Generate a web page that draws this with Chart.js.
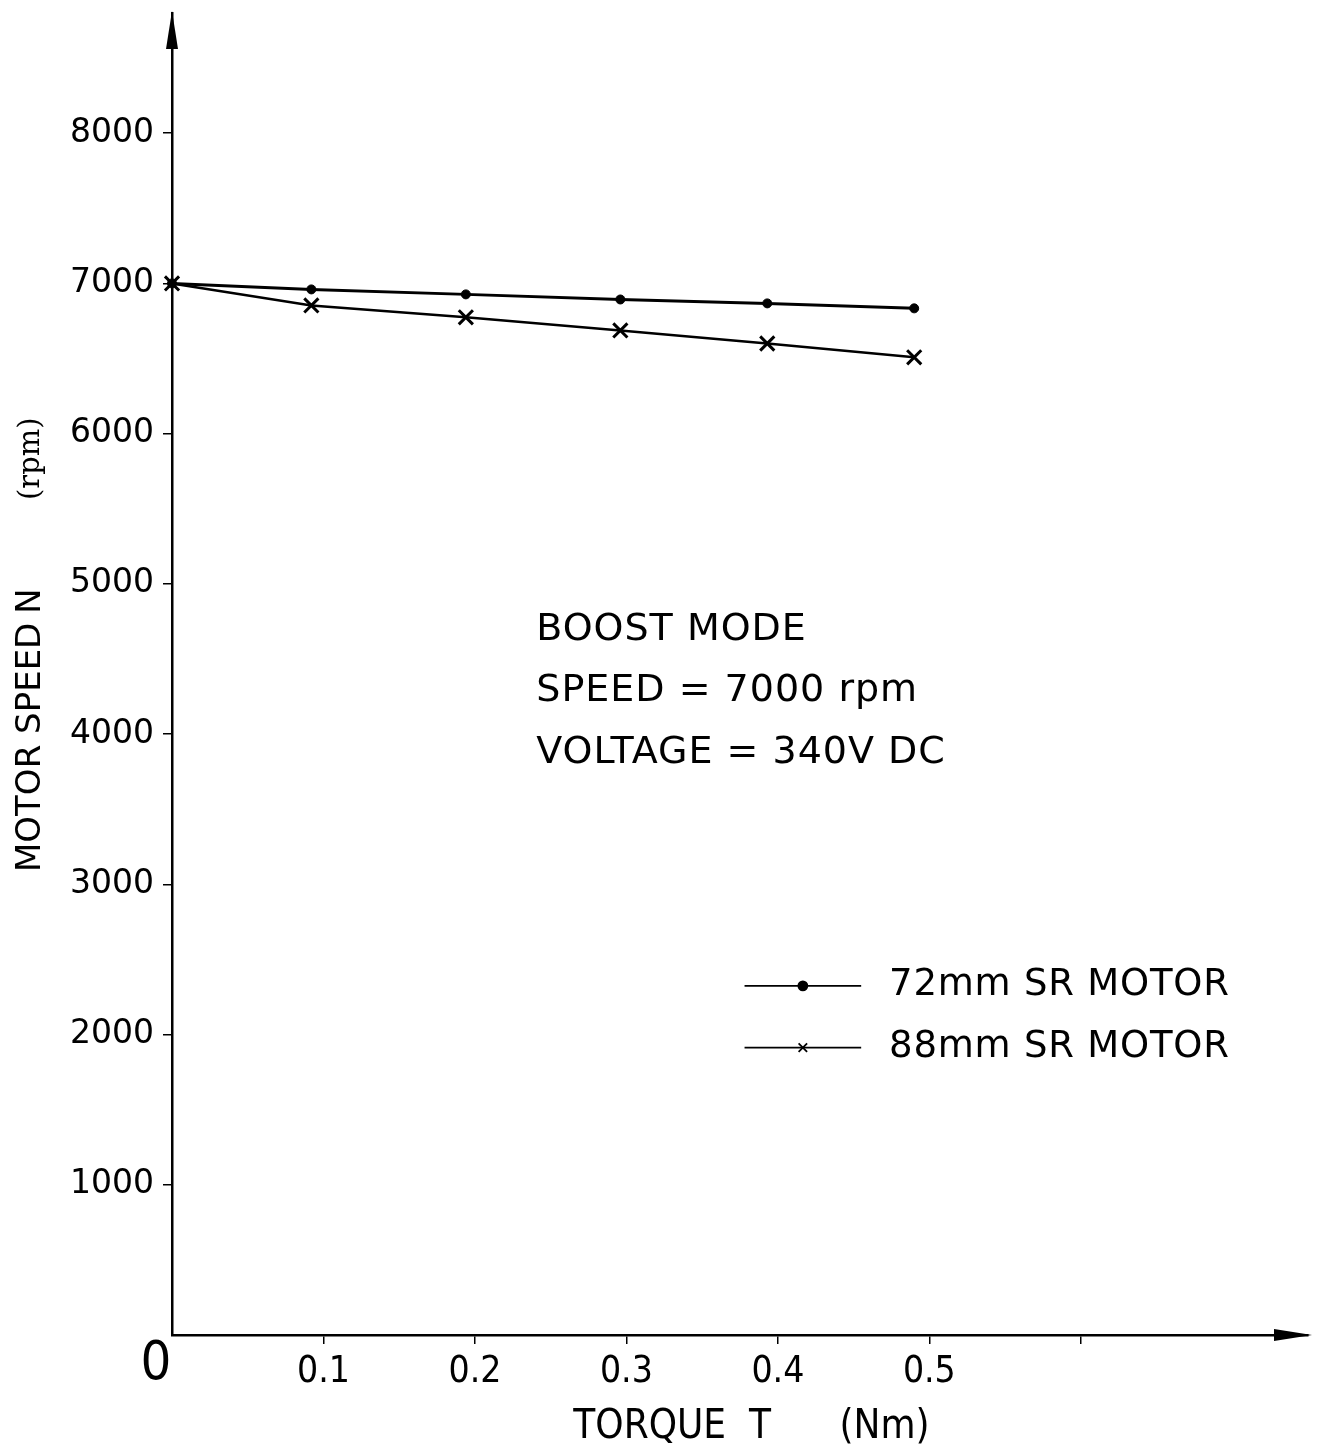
<!DOCTYPE html>
<html>
<head>
<meta charset="utf-8">
<title>Motor speed vs torque</title>
<script src="https://cdn.jsdelivr.net/npm/chart.js@4.4.1/dist/chart.umd.min.js"></script>
<style>
  html, body { margin: 0; padding: 0; background: #fff; }
  #wrap { width: 1321px; height: 1452px; }
</style>
</head>
<body>
<div id="wrap"><canvas id="chart" width="1321" height="1452"></canvas></div>
<script>
// values
const torqueValues = [0, 0.092, 0.194, 0.296, 0.393, 0.49];
const speed72 = [7000, 6960, 6927, 6893, 6867, 6834];
const speed88 = [7000, 6853, 6774, 6687, 6600, 6508];
const seriesNames = ["72mm SR MOTOR", "88mm SR MOTOR"];
const yTickValues = [1000, 2000, 3000, 4000, 5000, 6000, 7000, 8000];
const xTickValues = [0.1, 0.2, 0.3, 0.4, 0.5, 0.6];
const xTickLabels = ["0.1", "0.2", "0.3", "0.4", "0.5", ""];
const noteLines = ["BOOST MODE", "SPEED = 7000 rpm", "VOLTAGE = 340V DC"];

const toPoints = (xs, ys) => xs.map((x, i) => ({ x: x, y: ys[i] }));

const datasets = [
    {
        label: seriesNames[0],
        data: toPoints(torqueValues, speed72),
        borderColor: "#000",
        backgroundColor: "#000",
        borderWidth: 3,
        pointStyle: "circle",
        pointRadius: 4.5,
        pointBorderWidth: 1,
        tension: 0,
        clip: false
    },
    {
        label: seriesNames[1],
        data: toPoints(torqueValues, speed88),
        borderColor: "#000",
        backgroundColor: "#000",
        borderWidth: 2.5,
        pointStyle: "crossRot",
        pointRadius: 10,
        pointBorderWidth: 3,
        tension: 0,
        clip: false
    }
];

// arrows, origin "0", y title, notes and legend
const decorations = {
    id: "decorations",
    afterDraw(chart) {
        const ctx = chart.ctx;
        const area = chart.chartArea;
        const xs = chart.scales.x;
        const ys = chart.scales.y;
        ctx.save();
        ctx.fillStyle = "#000";
        ctx.strokeStyle = "#000";

        // y arrow
        ctx.beginPath();
        ctx.moveTo(area.left, area.top - 2);
        ctx.lineTo(area.left - 6, area.top + 36);
        ctx.lineTo(area.left + 6, area.top + 36);
        ctx.closePath();
        ctx.fill();

        // x arrow
        ctx.beginPath();
        ctx.moveTo(area.right + 4, area.bottom);
        ctx.lineTo(area.right - 34, area.bottom - 6);
        ctx.lineTo(area.right - 34, area.bottom + 6);
        ctx.closePath();
        ctx.fill();

        // origin label
        ctx.font = "54px 'Liberation Sans Narrow', 'DejaVu Sans Condensed', sans-serif";
        ctx.textAlign = "center";
        ctx.textBaseline = "middle";
        ctx.fillText("0", area.left - 16, area.bottom + 30);

        // y axis title, rotated
        ctx.save();
        ctx.translate(31, 0);
        ctx.rotate(-Math.PI / 2);
        ctx.textBaseline = "middle";
        ctx.textAlign = "left";
        ctx.font = "34px 'DejaVu Sans', sans-serif";
        ctx.fillText("MOTOR SPEED", -872, 0);
        ctx.textAlign = "center";
        ctx.fillText("N", -601, 0);
        ctx.textAlign = "left";
        ctx.font = "29px 'DejaVu Serif', serif";
        ctx.fillText("(rpm)", -500, 0);
        ctx.restore();

        // notes
        ctx.font = "38px 'DejaVu Sans', sans-serif";
        ctx.letterSpacing = "1px";
        ctx.textAlign = "left";
        ctx.textBaseline = "middle";
        const noteX = xs.getPixelForValue(0.2405);
        const noteY = [4695, 4283, 3871];
        noteLines.forEach((t, i) => ctx.fillText(t, noteX, ys.getPixelForValue(noteY[i])));

        // legend
        const lx0 = xs.getPixelForValue(0.378);
        const lx1 = xs.getPixelForValue(0.455);
        const tx = xs.getPixelForValue(0.4734);
        const legY = [2324, 1913];
        chart.data.datasets.forEach((ds, i) => {
            const y = ys.getPixelForValue(legY[i]);
            ctx.lineWidth = 1.8;
            ctx.beginPath();
            ctx.moveTo(lx0, y);
            ctx.lineTo(lx1, y);
            ctx.stroke();
            Chart.helpers.drawPoint(ctx, {
                pointStyle: ds.pointStyle,
                radius: i === 0 ? 4.5 : 6,
                borderWidth: 1.5,
                rotation: 0
            }, (lx0 + lx1) / 2, y);
            ctx.font = "37px 'DejaVu Sans', sans-serif";
            ctx.letterSpacing = "0.8px";
            ctx.fillText(ds.label, tx, y);
        });
        ctx.restore();
    }
};

const near = (v, list) => list.some(t => Math.abs(t - v) < 1e-6);

new Chart(document.getElementById("chart"), {
    type: "line",
    data: { datasets: datasets },
    options: {
        responsive: false,
        animation: false,
        layout: { padding: { top: 10, right: 7, left: 0, bottom: 0 } },
        plugins: {
            legend: { display: false },
            tooltip: { enabled: false }
        },
        scales: {
            x: {
                type: "linear",
                min: 0,
                max: 0.75,
                afterBuildTicks: scale => {
                    scale.ticks = xTickValues.map(v => ({ value: v }));
                },
                afterFit: scale => {
                    scale.height = 117;
                    scale.paddingLeft = 0;
                    scale.paddingRight = 0;
                },
                border: { display: true, color: "#000", width: 2.5 },
                grid: {
                    display: true,
                    drawOnChartArea: false,
                    drawTicks: true,
                    tickLength: 9,
                    color: "#000",
                    lineWidth: 1.5
                },
                ticks: {
                    color: "#000",
                    padding: 6,
                    font: { family: "'Liberation Sans Narrow', 'DejaVu Sans Condensed', sans-serif", size: 37 },
                    maxRotation: 0,
                    autoSkip: false,
                    callback: (v) => {
                        const i = xTickValues.findIndex(t => Math.abs(t - v) < 1e-6);
                        return i >= 0 ? xTickLabels[i] : "";
                    }
                },
                title: {
                    display: true,
                    text: "  TORQUE  T      (Nm)",
                    color: "#000",
                    font: { family: "'DejaVu Sans Condensed', sans-serif", size: 40 },
                    padding: { top: 0, bottom: 0 }
                }
            },
            y: {
                type: "linear",
                min: 0,
                max: 8800,
                afterBuildTicks: scale => {
                    scale.ticks = yTickValues.map(v => ({ value: v }));
                },
                afterFit: scale => {
                    scale.width = 172;
                    scale.paddingTop = 0;
                    scale.paddingBottom = 0;
                },
                border: { display: true, color: "#000", width: 2.5 },
                grid: {
                    display: true,
                    drawOnChartArea: false,
                    drawTicks: true,
                    tickLength: 9,
                    color: "#000",
                    lineWidth: 1.5
                },
                ticks: {
                    color: "#000",
                    padding: 9,
                    font: { family: "'DejaVu Sans', sans-serif", size: 33 },
                    autoSkip: false,
                    callback: (v) => near(v, yTickValues) ? String(v) : ""
                }
            }
        }
    },
    plugins: [decorations]
});
</script>
</body>
</html>
